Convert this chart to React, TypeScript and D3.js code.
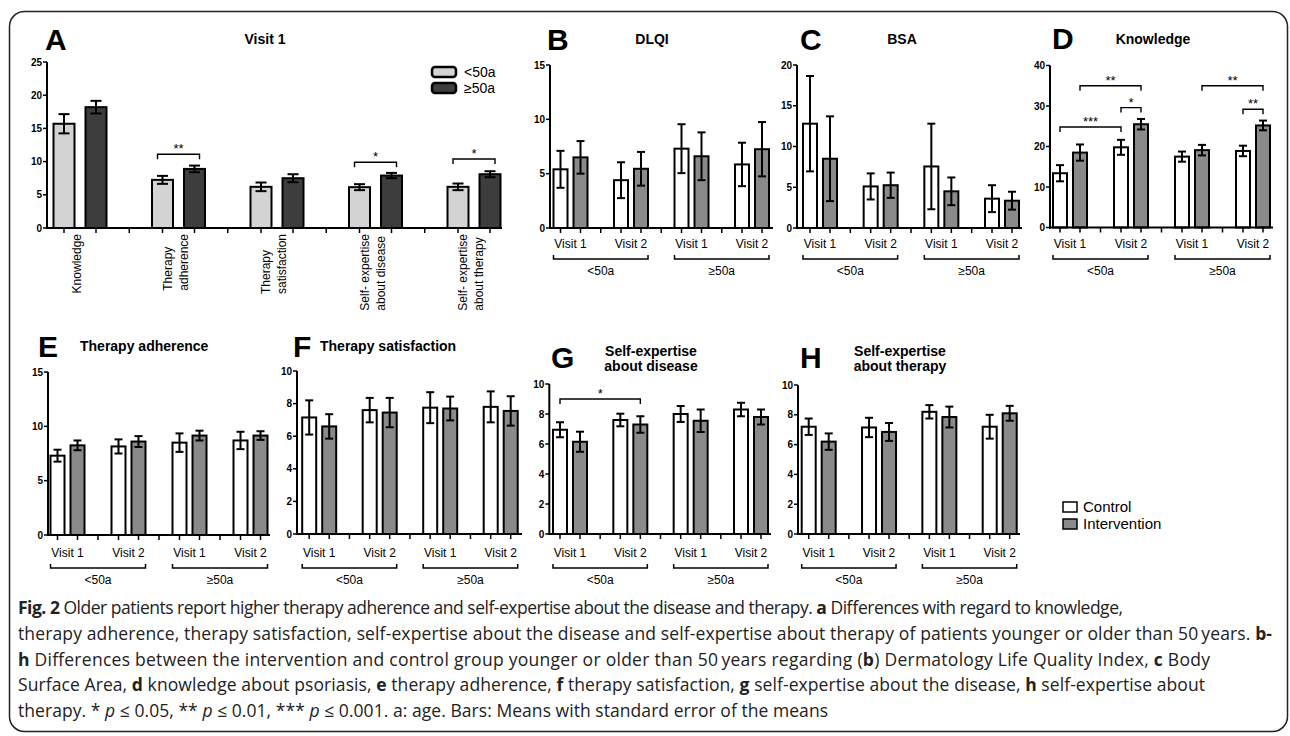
import React from "react";
import * as d3 from "d3";

const FONT = "'Liberation Sans', Arial, Helvetica, sans-serif";
const CAP_FONT = "'Open Sans', 'Noto Sans', sans-serif";

// ---------------- data ----------------
const visitLabels = ["Visit 1", "Visit 2", "Visit 1", "Visit 2"];
const ageLabels = ["<50a", "\u226550a"];
const seriesNames = ["Control", "Intervention"];

// Panel A (Visit 1, by age)
const aCategories = [
  ["Knowledge"],
  ["Therapy", "adherence"],
  ["Therapy", "satisfaction"],
  ["Self- expertise", "about disease"],
  ["Self- expertise", "about therapy"],
];
const aYoung = [15.7, 7.25, 6.2, 6.15, 6.2];
const aYoungSE = [1.45, 0.6, 0.65, 0.45, 0.5];
const aOld = [18.2, 8.9, 7.5, 7.9, 8.1];
const aOldSE = [0.95, 0.5, 0.6, 0.4, 0.45];
const aTicks = [0, 5, 10, 15, 20, 25];
const aSig = [
  { a: [1, 0], b: [1, 1], level: 11.1, label: "**" },
  { a: [3, 0], b: [3, 1], level: 9.9, label: "*" },
  { a: [4, 0], b: [4, 1], level: 10.4, label: "*" },
];

// B DLQI
const dlqiControl = [5.4, 4.4, 7.3, 5.85];
const dlqiControlSE = [1.7, 1.65, 2.25, 2.0];
const dlqiInterv = [6.5, 5.45, 6.6, 7.25];
const dlqiIntervSE = [1.5, 1.55, 2.2, 2.5];
const dlqiTicks = [0, 5, 10, 15];

// C BSA
const bsaControl = [12.8, 5.1, 7.55, 3.6];
const bsaControlSE = [5.85, 1.6, 5.25, 1.65];
const bsaInterv = [8.5, 5.25, 4.5, 3.35];
const bsaIntervSE = [5.2, 1.55, 1.7, 1.1];
const bsaTicks = [0, 5, 10, 15, 20];

// D Knowledge
const knowControl = [13.4, 19.8, 17.5, 18.9];
const knowControlSE = [2.0, 1.85, 1.25, 1.3];
const knowInterv = [18.5, 25.5, 19.1, 25.2];
const knowIntervSE = [2.0, 1.3, 1.3, 1.2];
const knowTicks = [0, 10, 20, 30, 40];
const knowSig = [
  { a: [0, 0], b: [1, 0], level: 24.8, label: "***" },
  { a: [1, 0], b: [1, 1], level: 29.6, label: "*" },
  { a: [0, 1], b: [1, 1], level: 35.0, label: "**" },
  { a: [2, 1], b: [3, 1], level: 35.0, label: "**" },
  { a: [3, 0], b: [3, 1], level: 29.2, label: "**" },
];

// E Therapy adherence
const adhControl = [7.3, 8.15, 8.5, 8.7];
const adhControlSE = [0.55, 0.65, 0.85, 0.8];
const adhInterv = [8.25, 8.6, 9.15, 9.15];
const adhIntervSE = [0.45, 0.5, 0.45, 0.4];
const adhTicks = [0, 5, 10, 15];

// F Therapy satisfaction
const satControl = [7.15, 7.6, 7.75, 7.8];
const satControlSE = [1.05, 0.75, 0.95, 0.95];
const satInterv = [6.6, 7.45, 7.7, 7.55];
const satIntervSE = [0.75, 0.9, 0.73, 0.9];
const tenTicks = [0, 2, 4, 6, 8, 10];

// G Self-expertise about disease
const sedControl = [6.95, 7.6, 8.0, 8.3];
const sedControlSE = [0.5, 0.42, 0.53, 0.45];
const sedInterv = [6.15, 7.3, 7.55, 7.8];
const sedIntervSE = [0.67, 0.55, 0.75, 0.5];
const sedSig = [{ a: [0, 0], b: [1, 1], level: 9.0, label: "*" }];

// H Self-expertise about therapy
const setControl = [7.2, 7.15, 8.2, 7.2];
const setControlSE = [0.55, 0.65, 0.45, 0.8];
const setInterv = [6.2, 6.85, 7.85, 8.1];
const setIntervSE = [0.55, 0.6, 0.7, 0.5];

// ---------------- styles ----------------
const C_WHITE = "#ffffff";
const C_GRAY = "#8a8a8a";
const C_LIGHT = "#d3d3d3";
const C_DARK = "#3d3d3d";

type Sig = { a: number[]; b: number[]; level: number; label: string };
type Series = { mean: number[]; se: number[]; fill: string };
type PanelSpec = {
  x0: number; y0: number; yTop: number; yMax: number; ticks: number[];
  centers: [number, number]; offset: number; bw: number; axisEnd: number;
  cap: number; series: Series[]; sig?: Sig[]; sigExt?: number;
  bottom?: { labelY: number; bracketY: number; ageY: number };
};

function Panel({ p }: { p: PanelSpec }) {
  const n = p.series[0].mean.length;
  const y = d3.scaleLinear().domain([0, p.yMax]).range([p.y0, p.yTop]);
  const x = d3.scalePoint<number>().domain(d3.range(n)).range(p.centers);
  const gx = (g: number) => x(g) as number;
  const bx = (g: number, s: number) => gx(g) + (s === 0 ? -p.offset : p.offset);
  const seps = d3.range(n - 1).map((i) => (gx(i) + gx(i + 1)) / 2);
  const barCenters: number[] = [];
  d3.range(n).forEach((g) => p.series.forEach((_, s) => barCenters.push(bx(g, s))));
  const ext = p.sigExt ?? 0;
  return (
    <g>
      {p.series.map((s, si) =>
        s.mean.map((m, gi) => {
          const cx = bx(gi, si);
          const hi = y(m + s.se[gi]);
          const lo = y(Math.max(0, m - s.se[gi]));
          return (
            <g key={`b${si}-${gi}`}>
              <rect x={cx - p.bw / 2} y={y(m)} width={p.bw} height={p.y0 - y(m)} fill={s.fill} stroke="#000" strokeWidth={2} />
              <line x1={cx} x2={cx} y1={hi} y2={lo} stroke="#000" strokeWidth={2} />
              <line x1={cx - p.cap / 2} x2={cx + p.cap / 2} y1={hi} y2={hi} stroke="#000" strokeWidth={2} />
              <line x1={cx - p.cap / 2} x2={cx + p.cap / 2} y1={lo} y2={lo} stroke="#000" strokeWidth={2} />
            </g>
          );
        })
      )}
      <line x1={p.x0} x2={p.x0} y1={p.y0 + 1} y2={p.yTop} stroke="#000" strokeWidth={2} />
      <line x1={p.x0 - 1} x2={p.axisEnd} y1={p.y0} y2={p.y0} stroke="#000" strokeWidth={2} />
      {p.ticks.map((t) => (
        <g key={`yt${t}`}>
          <line x1={p.x0 - 4} x2={p.x0} y1={y(t)} y2={y(t)} stroke="#000" strokeWidth={1.5} />
          <text x={p.x0 - 5} y={y(t)} dy="0.35em" textAnchor="end" fontFamily={FONT} fontWeight="bold" fontSize={10}>{t}</text>
        </g>
      ))}
      {barCenters.concat(seps).map((cx, i) => (
        <line key={`xt${i}`} x1={cx} x2={cx} y1={p.y0} y2={p.y0 + 5} stroke="#000" strokeWidth={1.5} />
      ))}
      {(p.sig || []).map((s, i) => {
        const xa = bx(s.a[0], s.a[1]) - ext;
        const xb = bx(s.b[0], s.b[1]) + ext;
        const yy = y(s.level);
        return (
          <g key={`sig${i}`}>
            <path d={`M${xa},${yy + 5}V${yy}H${xb}V${yy + 5}`} fill="none" stroke="#000" strokeWidth={1.4} />
            <text x={(xa + xb) / 2} y={yy - 1} textAnchor="middle" fontFamily={FONT} fontSize={13}>{s.label}</text>
          </g>
        );
      })}
      {p.bottom && (
        <g>
          {visitLabels.map((v, g) => (
            <text key={`v${g}`} x={gx(g)} y={p.bottom!.labelY} textAnchor="middle" fontFamily={FONT} fontSize={12}>{v}</text>
          ))}
          {ageLabels.map((a, k) => {
            const xa = bx(2 * k, 0) - p.bw / 2;
            const xb = bx(2 * k + 1, 1) + p.bw / 2;
            const by = p.bottom!.bracketY;
            return (
              <g key={`a${k}`}>
                <path d={`M${xa},${by - 4}V${by}H${xb}V${by - 4}`} fill="none" stroke="#000" strokeWidth={1.5} />
                <text x={(xa + xb) / 2} y={p.bottom!.ageY} textAnchor="middle" fontFamily={FONT} fontSize={12}>{a}</text>
              </g>
            );
          })}
        </g>
      )}
    </g>
  );
}

let ctx: CanvasRenderingContext2D | null = null;
function measure(t: string, font: string) {
  if (!ctx) ctx = document.createElement("canvas").getContext("2d");
  if (!ctx) return t.length * 6;
  ctx.font = font;
  return ctx.measureText(t).width;
}

const topBottom = { labelY: 248, bracketY: 259, ageY: 275 };
const lowBottom = { labelY: 557, bracketY: 568, ageY: 584 };

const pair = (c: number[], cs: number[], i: number[], is: number[]): Series[] => [
  { mean: c, se: cs, fill: C_WHITE },
  { mean: i, se: is, fill: C_GRAY },
];

const panelA: PanelSpec = {
  x0: 47, y0: 228, yTop: 62, yMax: 25, ticks: aTicks, centers: [80, 474], offset: 16, bw: 21,
  axisEnd: 502, cap: 11, series: [
    { mean: aYoung, se: aYoungSE, fill: C_LIGHT },
    { mean: aOld, se: aOldSE, fill: C_DARK },
  ], sig: aSig, sigExt: 5,
};
const panels: PanelSpec[] = [
  { x0: 550, y0: 228, yTop: 65, yMax: 15, ticks: dlqiTicks, centers: [570.5, 752], offset: 10, bw: 14, axisEnd: 773, cap: 8,
    series: pair(dlqiControl, dlqiControlSE, dlqiInterv, dlqiIntervSE), bottom: topBottom },
  { x0: 797, y0: 228, yTop: 65, yMax: 20, ticks: bsaTicks, centers: [820, 1002], offset: 10, bw: 14, axisEnd: 1022, cap: 8,
    series: pair(bsaControl, bsaControlSE, bsaInterv, bsaIntervSE), bottom: topBottom },
  { x0: 1050, y0: 227.5, yTop: 65.5, yMax: 40, ticks: knowTicks, centers: [1070, 1253], offset: 10, bw: 14, axisEnd: 1273, cap: 8,
    series: pair(knowControl, knowControlSE, knowInterv, knowIntervSE), sig: knowSig, bottom: topBottom },
  { x0: 48, y0: 535, yTop: 372, yMax: 15, ticks: adhTicks, centers: [67.5, 250.5], offset: 10, bw: 14, axisEnd: 270, cap: 8,
    series: pair(adhControl, adhControlSE, adhInterv, adhIntervSE), bottom: lowBottom },
  { x0: 297, y0: 534, yTop: 371, yMax: 10, ticks: tenTicks, centers: [319.2, 500.7], offset: 10, bw: 14, axisEnd: 522, cap: 8,
    series: pair(satControl, satControlSE, satInterv, satIntervSE), bottom: lowBottom },
  { x0: 549.3, y0: 534, yTop: 384, yMax: 10, ticks: tenTicks, centers: [570, 751], offset: 10, bw: 14, axisEnd: 771, cap: 8,
    series: pair(sedControl, sedControlSE, sedInterv, sedIntervSE), sig: sedSig, bottom: lowBottom },
  { x0: 798, y0: 534, yTop: 385, yMax: 10, ticks: tenTicks, centers: [818.7, 999.7], offset: 10, bw: 14, axisEnd: 1020, cap: 8,
    series: pair(setControl, setControlSE, setInterv, setIntervSE), bottom: lowBottom },
];

const letters = [
  { t: "A", x: 45, y: 50 }, { t: "B", x: 547, y: 50 }, { t: "C", x: 800, y: 50 }, { t: "D", x: 1052, y: 49 },
  { t: "E", x: 38, y: 357 }, { t: "F", x: 293, y: 357 }, { t: "G", x: 551, y: 368 }, { t: "H", x: 800, y: 368 },
];
const titles = [
  { lines: ["Visit 1"], x: 265, y: 44, anchor: "middle" },
  { lines: ["DLQI"], x: 652, y: 44, anchor: "middle" },
  { lines: ["BSA"], x: 902, y: 44, anchor: "middle" },
  { lines: ["Knowledge"], x: 1153, y: 44, anchor: "middle" },
  { lines: ["Therapy adherence"], x: 80, y: 351, anchor: "start" },
  { lines: ["Therapy satisfaction"], x: 320, y: 351, anchor: "start" },
  { lines: ["Self-expertise", "about disease"], x: 651, y: 356, anchor: "middle" },
  { lines: ["Self-expertise", "about therapy"], x: 900, y: 356, anchor: "middle" },
];

type Seg = { t: string; b?: boolean; i?: boolean };
const caption: { segs: Seg[]; w: number }[] = [
  { w: 1105, segs: [{ t: "Fig. 2", b: true }, { t: " Older patients report higher therapy adherence and self-expertise about the disease and therapy. " }, { t: "a", b: true }, { t: " Differences with regard to knowledge," }] },
  { w: 1254, segs: [{ t: "therapy adherence, therapy satisfaction, self-expertise about the disease and self-expertise about therapy of patients younger or older than 50\u2009years. " }, { t: "b", b: true }, { t: "-", b: true }] },
  { w: 1192, segs: [{ t: "h", b: true }, { t: " Differences between the intervention and control group younger or older than 50\u2009years regarding (" }, { t: "b", b: true }, { t: ") Dermatology Life Quality Index, " }, { t: "c", b: true }, { t: " Body" }] },
  { w: 1187, segs: [{ t: "Surface Area, " }, { t: "d", b: true }, { t: " knowledge about psoriasis, " }, { t: "e", b: true }, { t: " therapy adherence, " }, { t: "f", b: true }, { t: " therapy satisfaction, " }, { t: "g", b: true }, { t: " self-expertise about the disease, " }, { t: "h", b: true }, { t: " self-expertise about" }] },
  { w: 810, segs: [{ t: "therapy. * " }, { t: "p", i: true }, { t: " \u2264 0.05, ** " }, { t: "p", i: true }, { t: " \u2264 0.01, *** " }, { t: "p", i: true }, { t: " \u2264 0.001. a: age. Bars: Means with standard error of the means" }] },
];

export default function App() {
  const aX = d3.scalePoint<number>().domain(d3.range(aCategories.length)).range(panelA.centers);
  // common caption font size so that the widest line fits with (almost) no extra spacing
  const natural = measure(caption[1].segs.map((s) => s.t).join(""), `16px 'Open Sans'`);
  const capSize = Math.min(17.5, Math.max(14, 16 * caption[1].w / natural));
  return (
    <svg width={1290} height={736} style={{ position: "absolute", left: 0, top: 0, background: "#fff" }}>
      <rect x={9.5} y={11.5} width={1278} height={720} rx={15} fill="none" stroke="#222" strokeWidth={1.5} />
      <Panel p={panelA} />
      {panels.map((p, i) => <Panel key={i} p={p} />)}

      {/* Panel A category labels */}
      {aCategories.map((lines, ci) => {
        const font = `12px 'Liberation Sans', Arial`;
        const maxW = Math.max(...lines.map((l) => measure(l, font)));
        const start = 234 + maxW;
        return lines.map((l, li) => (
          <text key={`ac${ci}-${li}`} transform={`translate(${(aX(ci) as number) - 3 + (li - (lines.length - 1) / 2) * 16},${start}) rotate(-90)`}
            dy="0.35em" fontFamily={FONT} fontSize={12}>{l}</text>
        ));
      })}

      {/* Panel A legend */}
      <rect x={432} y={67} width={24} height={10} rx={3} fill={C_LIGHT} stroke="#000" strokeWidth={2.5} />
      <rect x={432} y={83} width={24} height={10} rx={3} fill={C_DARK} stroke="#000" strokeWidth={2.5} />
      <text x={464} y={77} fontFamily={FONT} fontSize={14}>{ageLabels[0]}</text>
      <text x={464} y={93} fontFamily={FONT} fontSize={14}>{ageLabels[1]}</text>

      {letters.map((l) => (
        <text key={l.t} x={l.x} y={l.y} fontFamily={FONT} fontWeight="bold" fontSize={30}>{l.t}</text>
      ))}
      {titles.map((t, i) =>
        t.lines.map((l, li) => (
          <text key={`t${i}-${li}`} x={t.x} y={t.y + li * 15} textAnchor={t.anchor as any} fontFamily={FONT} fontWeight="bold" fontSize={14}>{l}</text>
        ))
      )}

      {/* Control / Intervention legend */}
      {seriesNames.map((s, i) => (
        <g key={s}>
          <rect x={1063} y={502 + i * 17} width={14} height={10} fill={i === 0 ? C_WHITE : C_GRAY} stroke="#000" strokeWidth={1.5} />
          <text x={1083} y={512 + i * 17} fontFamily={FONT} fontSize={15}>{s}</text>
        </g>
      ))}

      {/* caption */}
      {caption.map((line, li) => (
        <text key={`c${li}`} x={18} y={614 + li * 25.8} fontFamily={CAP_FONT} fontSize={capSize} fill="#222"
          textLength={line.w} lengthAdjust="spacing">
          {line.segs.map((s, si) => (
            <tspan key={si} fontWeight={s.b ? "bold" : "normal"} fontStyle={s.i ? "italic" : "normal"}>{s.t}</tspan>
          ))}
        </text>
      ))}
    </svg>
  );
}
